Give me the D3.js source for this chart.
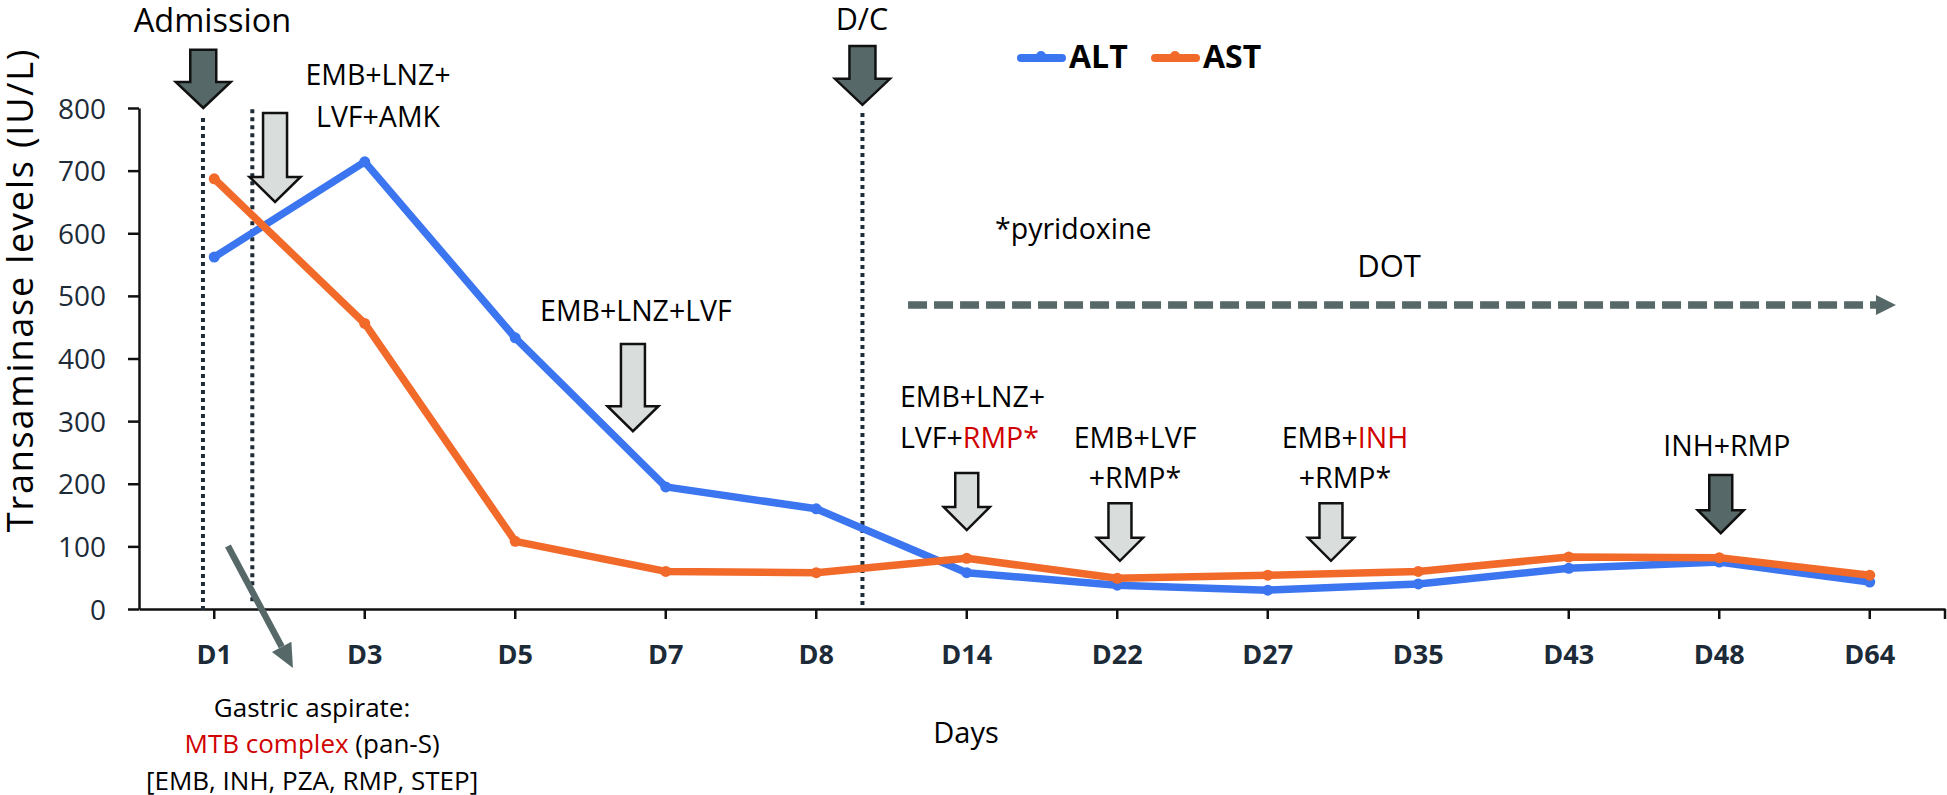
<!DOCTYPE html>
<html><head><meta charset="utf-8">
<script src="https://cdn.jsdelivr.net/npm/d3@7/dist/d3.min.js"></script>
<style>
body{margin:0;background:#fff;}
svg{display:block;font-family:"Open Sans","Noto Sans",sans-serif;}
</style>
</head><body>
<svg id="chart" width="1947" height="795"></svg>
<script>
// ---------------- data ----------------
const days = ["D1","D3","D5","D7","D8","D14","D22","D27","D35","D43","D48","D64"];
const altValues = [562,714,433,195,160,58,38,30,40,65,75,43];
const astValues = [687,456,108,60,58,81,49,54,60,83,82,54];
const yTickValues = [0,100,200,300,400,500,600,700,800];
const seriesNames = ["ALT","AST"];
const seriesColors = ["#3b75f0","#f26a2a"];

// annotation positions in chart units: i = category index (fractional), v = IU/L value
const dottedLines = [
  {i:-0.075, v0:-6, v1:784},
  {i:0.253, v0:6, v1:798},
  {i:4.307, v0:0, v1:792}
];
const blockArrows = [
  {i:-0.073, top:893, tip:800, kind:"dark", size:"big"},
  {i:4.307, top:899, tip:805, kind:"dark", size:"big"},
  {i:0.404, top:792, tip:650, kind:"light", size:"mid"},
  {i:2.782, top:423, tip:284, kind:"light", size:"mid"},
  {i:5.0, top:217, tip:126, kind:"light", size:"small"},
  {i:6.018, top:169, tip:77, kind:"light", size:"small"},
  {i:7.42, top:169, tip:77, kind:"light", size:"small"},
  {i:10.01, top:214, tip:121, kind:"dark", size:"small"}
];
const textNotes = [
  {i:-0.012, v:922, size:32.5, anchor:"middle", parts:[["Admission",0]]},
  {i:4.304, v:925, size:30.5, anchor:"middle", parts:[["D/C",0]]},
  {i:1.088, v:836.7, size:28.5, anchor:"middle", parts:[["EMB+LNZ+",0]]},
  {i:1.088, v:769.6, size:28.5, anchor:"middle", parts:[["LVF+AMK",0]]},
  {i:2.802, v:459.9, size:28.5, anchor:"middle", parts:[["EMB+LNZ+LVF",0]]},
  {i:4.556, v:322.6, size:28.5, anchor:"start", parts:[["EMB+LNZ+",0]]},
  {i:4.556, v:257.1, size:28.5, anchor:"start", parts:[["LVF+",0],["RMP*",1]]},
  {i:6.118, v:257.1, size:28.5, anchor:"middle", parts:[["EMB+LVF",0]]},
  {i:6.118, v:193.2, size:28.5, anchor:"middle", parts:[["+RMP*",0]]},
  {i:7.513, v:257.1, size:28.5, anchor:"middle", parts:[["EMB+",0],["INH",1]]},
  {i:7.513, v:193.2, size:28.5, anchor:"middle", parts:[["+RMP*",0]]},
  {i:10.05, v:244.3, size:28.5, anchor:"middle", parts:[["INH+RMP",0]]},
  {i:5.188, v:590.8, size:28.5, anchor:"start", parts:[["*pyridoxine",0]]},
  {i:7.806, v:530, size:31, anchor:"middle", parts:[["DOT",0]]},
  {i:0.65, v:-172.5, size:26, anchor:"middle", parts:[["Gastric aspirate:",0]]},
  {i:0.65, v:-230, size:26, anchor:"middle", parts:[["MTB complex",1],[" (pan-S)",0]]},
  {i:0.65, v:-289, size:26, anchor:"middle", parts:[["[EMB, INH, PZA, RMP, STEP]",0]]}
];
const dotArrow = {i0:4.61, i1:11.174, v:485.4};
const gastricArrow = {i0:0.091, v0:100.6, i1:0.523, v1:-94.2};

// ---------------- layout ----------------
const svg = d3.select("#chart");
const plotLeft = 139, plotRight = 1945, plotTop = 108, plotBottom = 609;
const x = d3.scaleBand().domain(days).range([plotLeft, plotRight]).padding(0);
const xi = d3.scaleLinear().domain([-0.5, days.length - 0.5]).range([plotLeft, plotRight]);
const y = d3.scaleLinear().domain([0, 800]).range([plotBottom, plotTop]);
const tickColor = "#1c2b37";
const dark = "#566868", light = "#d9dddc";
const red = "#d00000";

// ---------------- axes ----------------
const yAxis = svg.append("g").attr("transform", `translate(${plotLeft},0)`)
  .call(d3.axisLeft(y).tickValues(yTickValues).tickSize(11).tickSizeOuter(0).tickPadding(22));
yAxis.select(".domain").attr("stroke", "#111").attr("stroke-width", 2.5);
yAxis.selectAll(".tick line").attr("stroke", "#111").attr("stroke-width", 2.5);
yAxis.selectAll(".tick text").attr("fill", tickColor).attr("font-size", 28)
  .attr("font-family", "'Open Sans',sans-serif").attr("dy", "0.36em");

const xAxis = svg.append("g").attr("transform", `translate(0,${plotBottom})`)
  .call(d3.axisBottom(x).tickSize(10).tickSizeOuter(0).tickPadding(26));
xAxis.select(".domain").attr("stroke", "#111").attr("stroke-width", 2.5);
xAxis.selectAll(".tick line").attr("stroke", "#111").attr("stroke-width", 2.5);
xAxis.selectAll(".tick text").attr("fill", tickColor).attr("font-size", 27)
  .attr("font-weight", "bold").attr("font-family", "'Open Sans',sans-serif");
xAxis.append("line").attr("x1", plotRight).attr("x2", plotRight).attr("y1", 0).attr("y2", 10)
  .attr("stroke", "#111").attr("stroke-width", 2.5);

// axis titles
svg.append("text").attr("x", (plotLeft + plotRight) / 2 - 76).attr("y", 743)
  .attr("text-anchor", "middle").attr("font-size", 29).attr("fill", "#000").text("Days");
svg.append("text").attr("transform", "translate(33,290) rotate(-90)")
  .attr("text-anchor", "middle").attr("font-size", 36).attr("letter-spacing", 1.8).attr("fill", "#000")
  .text("Transaminase levels (IU/L)");

// ---------------- dotted vertical lines ----------------
svg.append("g").selectAll("line").data(dottedLines).join("line")
  .attr("x1", d => xi(d.i)).attr("x2", d => xi(d.i))
  .attr("y1", d => y(d.v1)).attr("y2", d => y(d.v0))
  .attr("stroke", "#1e2d38").attr("stroke-width", 4).attr("stroke-dasharray", "4 4");

// ---------------- series ----------------
const series = [altValues, astValues];
series.forEach((vals, s) => {
  const line = d3.line().x((d, k) => x(days[k]) + x.bandwidth() / 2).y(d => y(d));
  svg.append("path").datum(vals).attr("d", line).attr("fill", "none")
    .attr("stroke", seriesColors[s]).attr("stroke-width", 7.5)
    .attr("stroke-linejoin", "round").attr("stroke-linecap", "round");
  svg.append("g").selectAll("circle").data(vals).join("circle")
    .attr("cx", (d, k) => x(days[k]) + x.bandwidth() / 2).attr("cy", d => y(d))
    .attr("r", 5.5).attr("fill", seriesColors[s]);
});

// ---------------- block arrows ----------------
const sizes = {big:{sw:26, hw:55, hl:26}, mid:{sw:24, hw:51, hl:25}, small:{sw:23, hw:46, hl:23}};
function blockPath(tx, ty, topY, sz) {
  const {sw, hw, hl} = sz;
  return `M${tx - sw/2},${topY}L${tx + sw/2},${topY}L${tx + sw/2},${ty - hl}L${tx + hw/2},${ty - hl}` +
    `L${tx},${ty}L${tx - hw/2},${ty - hl}L${tx - sw/2},${ty - hl}Z`;
}
svg.append("g").selectAll("path").data(blockArrows).join("path")
  .attr("d", d => blockPath(xi(d.i), y(d.tip), y(d.top), sizes[d.size]))
  .attr("fill", d => d.kind === "dark" ? dark : light)
  .attr("stroke", "#111").attr("stroke-width", 2.5).attr("stroke-linejoin", "miter");

// ---------------- DOT dashed arrow ----------------
{
  const x0 = xi(dotArrow.i0), x1 = xi(dotArrow.i1), yy = y(dotArrow.v);
  svg.append("line").attr("x1", x0).attr("x2", x1 - 19).attr("y1", yy).attr("y2", yy)
    .attr("stroke", dark).attr("stroke-width", 7.5).attr("stroke-dasharray", "19 7");
  svg.append("path").attr("d", `M${x1 - 20},${yy - 10}L${x1},${yy}L${x1 - 20},${yy + 10}Z`).attr("fill", dark);
}

// ---------------- gastric arrow ----------------
{
  const ax = xi(gastricArrow.i0), ay = y(gastricArrow.v0), bx = xi(gastricArrow.i1), by = y(gastricArrow.v1);
  const len = Math.hypot(bx - ax, by - ay), ux = (bx - ax) / len, uy = (by - ay) / len;
  const hl = 24, hw = 11;
  const hx = bx - ux * hl, hy = by - uy * hl;
  svg.append("line").attr("x1", ax).attr("y1", ay).attr("x2", hx).attr("y2", hy)
    .attr("stroke", dark).attr("stroke-width", 6.5);
  svg.append("path").attr("d", `M${hx - uy * hw},${hy + ux * hw}L${bx},${by}L${hx + uy * hw},${hy - ux * hw}Z`)
    .attr("fill", dark);
}

// ---------------- text notes ----------------
const tg = svg.append("g");
textNotes.forEach(n => {
  const t = tg.append("text").attr("x", xi(n.i)).attr("y", y(n.v))
    .attr("text-anchor", n.anchor).attr("font-size", n.size).attr("fill", "#000");
  n.parts.forEach(p => t.append("tspan").attr("fill", p[1] ? red : "#000").text(p[0]));
});

// ---------------- legend ----------------
const legend = svg.append("g");
const legendItems = [{x:1017, textX:1069}, {x:1151, textX:1203}];
seriesNames.forEach((name, s) => {
  const L = legendItems[s];
  legend.append("line").attr("x1", L.x + 4).attr("x2", L.x + 45).attr("y1", 58).attr("y2", 58)
    .attr("stroke", seriesColors[s]).attr("stroke-width", 8).attr("stroke-linecap", "round");
  legend.append("circle").attr("cx", L.x + 24).attr("cy", 56).attr("r", 5).attr("fill", seriesColors[s]);
  legend.append("text").attr("x", L.textX).attr("y", 68).attr("font-size", 32)
    .attr("font-weight", "bold").attr("fill", "#000").text(name);
});
</script>
</body></html>
